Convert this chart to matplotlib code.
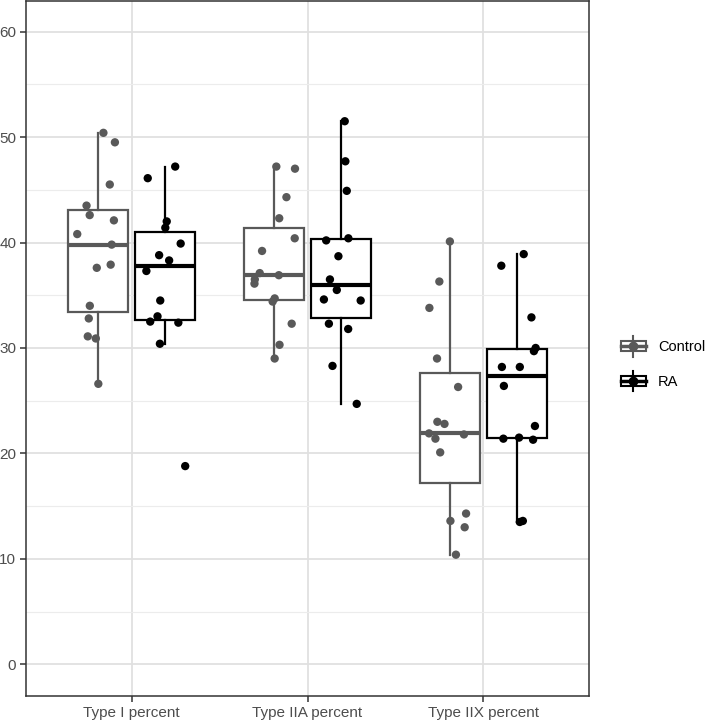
import numpy as np
import matplotlib
matplotlib.use('Agg')
import matplotlib.pyplot as plt
from matplotlib.legend_handler import HandlerBase
from matplotlib.lines import Line2D
from matplotlib.patches import Rectangle

plt.rcParams['font.family'] = ['Liberation Sans', 'DejaVu Sans']

# values
categories = ['Type I percent', 'Type IIA percent', 'Type IIX percent']
groups = ['Control', 'RA']

control_type1 = [50.4, 49.5, 45.5, 43.5, 42.6, 42.1, 40.8, 39.8, 37.9, 37.6,
                 34.0, 32.8, 31.1, 30.9, 26.6]
control_type2a = [47.2, 47.0, 44.3, 42.3, 40.4, 39.2, 37.1, 36.9, 36.5, 36.1,
                  34.7, 34.4, 32.3, 30.3, 29.0]
control_type2x = [40.1, 36.3, 33.8, 29.0, 26.3, 23.0, 22.8, 21.9, 21.8, 21.4,
                  20.1, 14.3, 13.6, 13.0, 10.4]

ra_type1 = [47.2, 46.1, 42.0, 41.4, 39.9, 38.8, 38.3, 37.3, 34.5, 33.0,
            32.5, 32.4, 30.4, 18.8]
ra_type2a = [51.5, 47.7, 44.9, 40.4, 40.2, 38.7, 36.5, 35.5, 34.6, 34.5,
             32.3, 31.8, 28.3, 24.7]
ra_type2x = [38.9, 37.8, 32.9, 30.0, 29.7, 28.2, 28.2, 26.4, 22.6, 21.5,
             21.4, 21.3, 13.6, 13.5]

y_ticks = [0, 10, 20, 30, 40, 50, 60]

colors = {'Control': '#595959', 'RA': '#000000'}
data = {
    'Control': [control_type1, control_type2a, control_type2x],
    'RA': [ra_type1, ra_type2a, ra_type2x],
}
offsets = {'Control': -0.19, 'RA': 0.19}
box_width = 0.34


class BoxKeyHandler(HandlerBase):
    """Legend key that looks like a small boxplot with a dot."""

    def create_artists(self, legend, orig_handle, xdescent, ydescent,
                       width, height, fontsize, trans):
        c = orig_handle.get_color()
        x0, y0 = -xdescent, -ydescent
        xm = x0 + width / 2
        whisk = Line2D([xm, xm], [y0 - 0.3 * height, y0 + 1.3 * height],
                       color=c, lw=1.5, transform=trans)
        rect = Rectangle((x0, y0 + 0.1 * height), width, 0.8 * height,
                         fc='white', ec=c, lw=1.5, transform=trans)
        med = Line2D([x0, x0 + width], [y0 + height / 2] * 2,
                     color=c, lw=2.5, transform=trans)
        dot = Line2D([xm], [y0 + height / 2], marker='o', ms=6,
                     color=c, transform=trans)
        return [whisk, rect, med, dot]


fig = plt.figure(figsize=(7.08, 7.2), dpi=100)
ax = fig.add_axes([26 / 708, 24 / 720, 563 / 708, 695 / 720])

rng = np.random.default_rng(7)
x_base = np.arange(1, len(categories) + 1)

for g in groups:
    c = colors[g]
    pos = x_base + offsets[g]
    ax.boxplot(data[g], positions=pos, widths=box_width, whis=1.5,
               showfliers=False, patch_artist=True, manage_ticks=False,
               boxprops=dict(facecolor='white', edgecolor=c, linewidth=1.6),
               medianprops=dict(color=c, linewidth=3.0),
               whiskerprops=dict(color=c, linewidth=1.6),
               capprops=dict(linewidth=0), zorder=2)
    for p, vals in zip(pos, data[g]):
        jit = rng.uniform(-0.12, 0.12, len(vals))
        ax.scatter(p + jit, vals, s=36, color=c, edgecolors='none', zorder=3)

ax.set_xlim(0.4, 3.6)
ax.set_ylim(-3.0, 62.9)
ax.set_xticks(x_base)
ax.set_xticklabels(categories)
ax.set_yticks(y_ticks)
ax.set_yticks(np.arange(5, 60, 10), minor=True)
ax.tick_params(axis='both', which='major', length=4, width=1.1, color='#333333',
               labelsize=11, labelcolor='#4d4d4d', pad=3)
ax.tick_params(axis='y', which='minor', length=0)

ax.grid(True, which='major', color='#e0e0e0', linewidth=1.3, zorder=0)
ax.grid(True, which='minor', axis='y', color='#ececec', linewidth=0.8, zorder=0)
ax.set_axisbelow(True)
for s in ax.spines.values():
    s.set_color('#333333')
    s.set_linewidth(1.1)

handles = [Line2D([], [], color=colors[g]) for g in groups]
fig.legend(handles, groups, loc='center left', bbox_to_anchor=(0.877, 0.494),
           handler_map={Line2D: BoxKeyHandler()}, frameon=False,
           fontsize=10.5, handlelength=1.7, handleheight=1.0,
           labelspacing=1.4, handletextpad=0.85, borderpad=0,
           borderaxespad=0)

plt.savefig('out.png', dpi=100)
